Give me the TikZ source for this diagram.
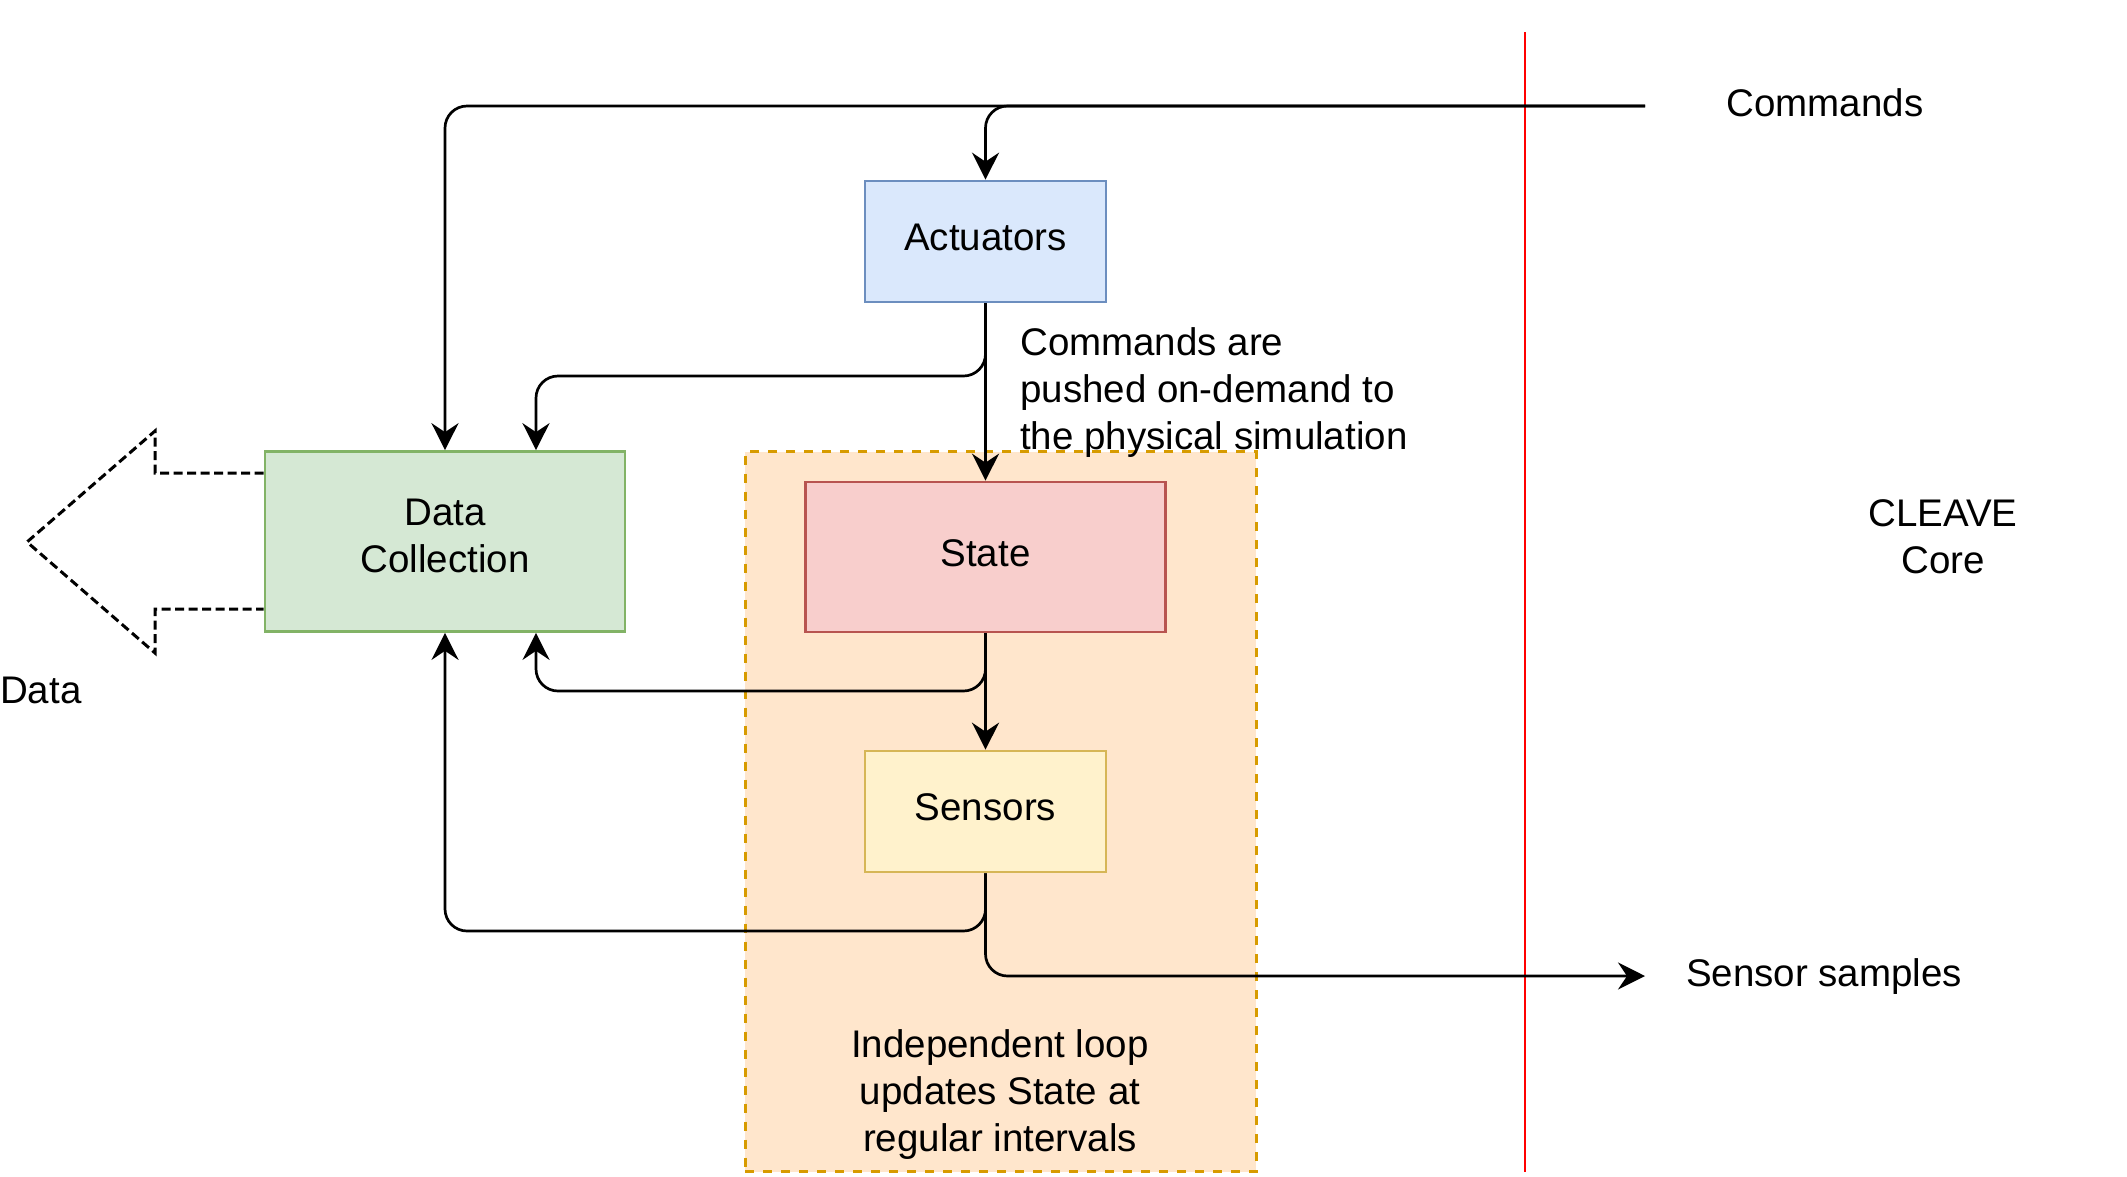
\documentclass[tikz,border=0pt]{standalone}
\usepackage{fontspec}
\setmainfont{Liberation Sans}
\usetikzlibrary{arrows.meta,calc}
\definecolor{actfill}{HTML}{DAE8FC}\definecolor{actdraw}{HTML}{6C8EBF}
\definecolor{dcfill}{HTML}{D5E8D4}\definecolor{dcdraw}{HTML}{82B366}
\definecolor{stfill}{HTML}{F8CECC}\definecolor{stdraw}{HTML}{B85450}
\definecolor{snfill}{HTML}{FFF2CC}\definecolor{sndraw}{HTML}{D6B656}
\definecolor{lpfill}{HTML}{FFE6CC}\definecolor{lpdraw}{HTML}{D79B00}
\definecolor{redline}{HTML}{FF0000}
\tikzset{
  box/.style={draw, line width=2.7pt, inner sep=0pt, align=center},
  oneline/.style={text height=28pt, text depth=10pt},
  conn/.style={line width=2.7pt, rounded corners=22pt, -{Stealth[length=27pt,width=27pt,inset=9pt]}},
  lbl/.style={inner sep=0pt, align=center},
}
\begin{document}
\begin{tikzpicture}[x=1pt,y=-1pt,font=\fontsize{38.5}{47}\selectfont]
\useasboundingbox (0,0) rectangle (2127,1176);
% loop container
\node[box, dashed, dash pattern=on 9pt off 9pt, draw=lpdraw, fill=lpfill, line width=3pt,
      minimum width=511pt, minimum height=720pt] (loop) at (1000.5,811.5) {};
% boxes
\node[box, oneline, draw=actdraw, fill=actfill, minimum width=241pt, minimum height=121pt] (act) at (985.5,241.5) {Actuators};
\node[box, draw=dcdraw, fill=dcfill, minimum width=360pt, minimum height=180pt, text height=75pt, text depth=14pt] (dc) at (445,541.5) {Data\\Collection};
\node[box, oneline, draw=stdraw, fill=stfill, minimum width=360pt, minimum height=150pt] (state) at (985.5,557) {State};
\node[box, oneline, draw=sndraw, fill=snfill, minimum width=241pt, minimum height=121pt] (sens) at (985.5,811.5) {Sensors};
% red boundary
\coordinate (rtop) at (1525,32);
\coordinate (rbot) at (1525,1172);
\draw[redline, line width=2.6pt] (rtop) -- (rbot);
% labels
\node[lbl] (cmd) at (1825,103) {Commands};
\node[lbl] (samples) at (1824,977) {Sensor samples};
\node[lbl] (core) at (1943,537) {CLEAVE\\Core};
\node[lbl, anchor=west] (data) at (0,690) {Data};
\node[lbl, anchor=west, align=left] (note) at (1020,393) {Commands are\\pushed on-demand to\\the physical simulation};
\node[lbl] (loopnote) at (1000,1095) {Independent loop\\updates State at\\regular intervals};
% junction coordinates
\coordinate (cmdin) at (1645,106);
\coordinate (ssout) at (1645,976);
\coordinate (jA) at (536,376);
\coordinate (jB) at (536,691);
\coordinate (jC) at (445,931);
% connectors
\draw[conn] (cmdin) -| (dc.north);
\draw[conn] (cmdin) -| (act.north);
\draw[conn] (act.south) -- (state.north);
\draw[conn] (act.south) |- (jA) -- (jA |- dc.north);
\draw[conn] (state.south) -- (sens.north);
\draw[conn] (state.south) |- (jB) -- (jB |- dc.south);
\draw[conn] (sens.south) |- (jC) -- (dc.south);
\draw[conn] (sens.south) |- (ssout);
% data export arrow (dashed outline)
\draw[line width=3pt, dash pattern=on 9pt off 4.5pt]
  (dc.west |- 0,473) -- (155,473) -- (155,431) -- (27,542) -- (155,653) -- (155,609) -- (dc.west |- 0,609);
\end{tikzpicture}
\end{document}
